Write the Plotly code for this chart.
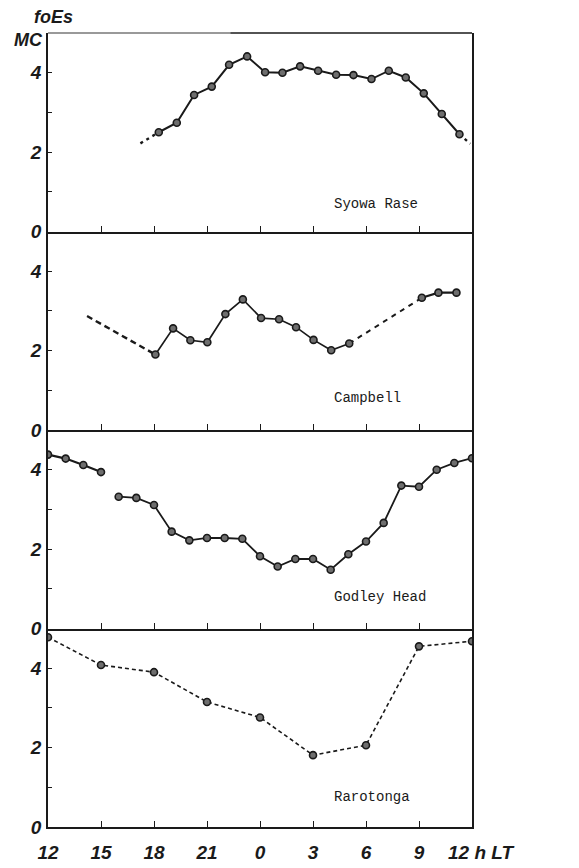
import plotly.graph_objects as go
from plotly.subplots import make_subplots

# Hours are counted from 12 h LT (0 = 12 h, 24 = 12 h next day)
tick_hours = [0, 3, 6, 9, 12, 15, 18, 21, 24]
tick_labels = ["12", "15", "18", "21", "0", "3", "6", "9", ""]

# Syowa Base
syowa_dash_a_t = [5.23, 6.27]
syowa_dash_a_v = [2.22, 2.50]
syowa_t = [6.27, 7.29, 8.27, 9.27, 10.25, 11.27, 12.29, 13.27, 14.27, 15.29,
           16.31, 17.29, 18.31, 19.29, 20.25, 21.27, 22.29, 23.29]
syowa_v = [2.50, 2.74, 3.44, 3.65, 4.20, 4.41, 4.01, 4.00, 4.16, 4.05,
           3.95, 3.94, 3.84, 4.05, 3.88, 3.48, 2.96, 2.45]
syowa_dash_b_t = [23.29, 23.9]
syowa_dash_b_v = [2.45, 2.21]

# Campbell
campbell_dash_a_t = [2.21, 6.08]
campbell_dash_a_v = [2.87, 1.90]
campbell_t = [6.08, 7.08, 8.06, 9.02, 10.04, 11.03, 12.06, 13.08, 14.04, 15.03, 16.03, 17.05]
campbell_v = [1.90, 2.56, 2.26, 2.21, 2.92, 3.29, 2.82, 2.79, 2.59, 2.27, 2.01, 2.18]
campbell_dash_b_t = [17.05, 21.16]
campbell_dash_b_v = [2.18, 3.33]
campbell_end_t = [21.16, 22.10, 23.12]
campbell_end_v = [3.33, 3.46, 3.46]

# Godley Head
godley_a_t = [0, 1, 2, 3]
godley_a_v = [4.38, 4.28, 4.12, 3.94]
godley_b_t = [4, 5, 6, 7, 8, 9, 10, 11, 12, 13, 14, 15, 16, 17, 18, 19, 20, 21, 22, 23, 24]
godley_b_v = [3.32, 3.29, 3.11, 2.44, 2.22, 2.28, 2.28, 2.26, 1.82, 1.56, 1.75, 1.75,
              1.48, 1.87, 2.19, 2.66, 3.60, 3.57, 4.00, 4.17, 4.29]

# Rarotonga
raro_t = [0, 3, 6, 9, 12, 15, 18, 21, 24]
raro_v = [4.78, 4.08, 3.90, 3.15, 2.76, 1.81, 2.06, 4.55, 4.68]

station_names = ["Syowa Rase", "Campbell", "Godley Head", "Rarotonga"]
station_label_y = [0.70, 0.81, 0.79, 0.75]

INK = "#1a1a1a"
marker = dict(symbol="circle", size=7, color="#6e6e6e", line=dict(color=INK, width=1.6))

fig = make_subplots(rows=4, cols=1, shared_xaxes=True, vertical_spacing=0)


def line(t, v, row, dash="solid", width=2.0, markers=True):
    fig.add_trace(go.Scatter(
        x=t, y=v, mode="lines+markers" if markers else "lines",
        line=dict(color=INK, width=width, dash=dash),
        marker=marker, showlegend=False, hoverinfo="skip"), row=row, col=1)


line(syowa_dash_a_t, syowa_dash_a_v, 1, dash="3px,4px", width=2.4, markers=False)
line(syowa_dash_b_t, syowa_dash_b_v, 1, dash="3px,4px", width=2.4, markers=False)
line(syowa_t, syowa_v, 1, width=2.0)

line(campbell_dash_a_t, campbell_dash_a_v, 2, dash="6px,4px", width=2.4, markers=False)
line(campbell_dash_b_t, campbell_dash_b_v, 2, dash="5px,5px", width=2.0, markers=False)
line(campbell_t, campbell_v, 2, width=1.7)
line(campbell_end_t, campbell_end_v, 2, width=2.2)

line(godley_a_t, godley_a_v, 3, width=2.2)
line(godley_b_t, godley_b_v, 3, width=1.8)

line(raro_t, raro_v, 4, dash="4px,3px", width=1.6)

for i, (name, yv) in enumerate(zip(station_names, station_label_y), start=1):
    fig.add_annotation(x=16.05, y=yv, text=name, showarrow=False, xanchor="left",
                       yanchor="middle",
                       font=dict(family="Liberation Mono, DejaVu Sans Mono", size=14, color=INK),
                       row=i, col=1)

tick_font = dict(family="Liberation Sans Narrow, Liberation Sans, Arial", size=19,
                 color=INK, style="italic", weight="bold")

for r in range(1, 5):
    fig.update_yaxes(range=[0, 5], tickvals=[0, 1, 2, 3, 4], ticktext=["0", "", "2", "", "4"],
                     ticks="inside", ticklen=4, tickwidth=1.2, tickcolor=INK,
                     showline=True, linecolor=INK, linewidth=1.6, mirror=True,
                     showgrid=False, zeroline=False, tickfont=tick_font,
                     ticklabelstandoff=1, automargin=False, row=r, col=1)
    fig.update_xaxes(range=[0, 24], tickvals=tick_hours, ticktext=tick_labels,
                     ticks="inside", ticklen=6, tickwidth=1.2, tickcolor=INK,
                     showline=True, linecolor=INK, linewidth=1.6,
                     showgrid=False, zeroline=False, tickfont=tick_font,
                     ticklabelstandoff=7, automargin=False, row=r, col=1)

# top frame of the upper panel
fig.add_shape(type="line", xref="x domain", yref="y domain", x0=0, x1=0.43, y0=1, y1=1,
              line=dict(color="#777777", width=1.6))
fig.add_shape(type="line", xref="x domain", yref="y domain", x0=0.43, x1=1, y0=1, y1=1,
              line=dict(color=INK, width=1.6))

# axis caption and time-axis unit
cap_font = dict(family="Liberation Sans Narrow, Liberation Sans", size=18,
                color=INK, style="italic", weight="bold")
fig.add_annotation(xref="paper", yref="paper", x=0.014, y=1.0, yshift=16, text="foEs",
                   showarrow=False, xanchor="center", yanchor="middle", font=cap_font)
fig.add_annotation(xref="paper", yref="paper", x=-0.045, y=1.0, yshift=-7, text="MC",
                   showarrow=False, xanchor="center", yanchor="middle", font=cap_font)
fig.add_annotation(xref="x4", yref="paper", x=24, y=0, yshift=-25, xshift=-26,
                   text="12 h LT", showarrow=False, xanchor="left", yanchor="middle",
                   font=tick_font)

fig.update_layout(width=579, height=868, margin=dict(l=48, r=107, t=33, b=41),
                  paper_bgcolor="white", plot_bgcolor="white", showlegend=False)

fig.write_html("out.html")
